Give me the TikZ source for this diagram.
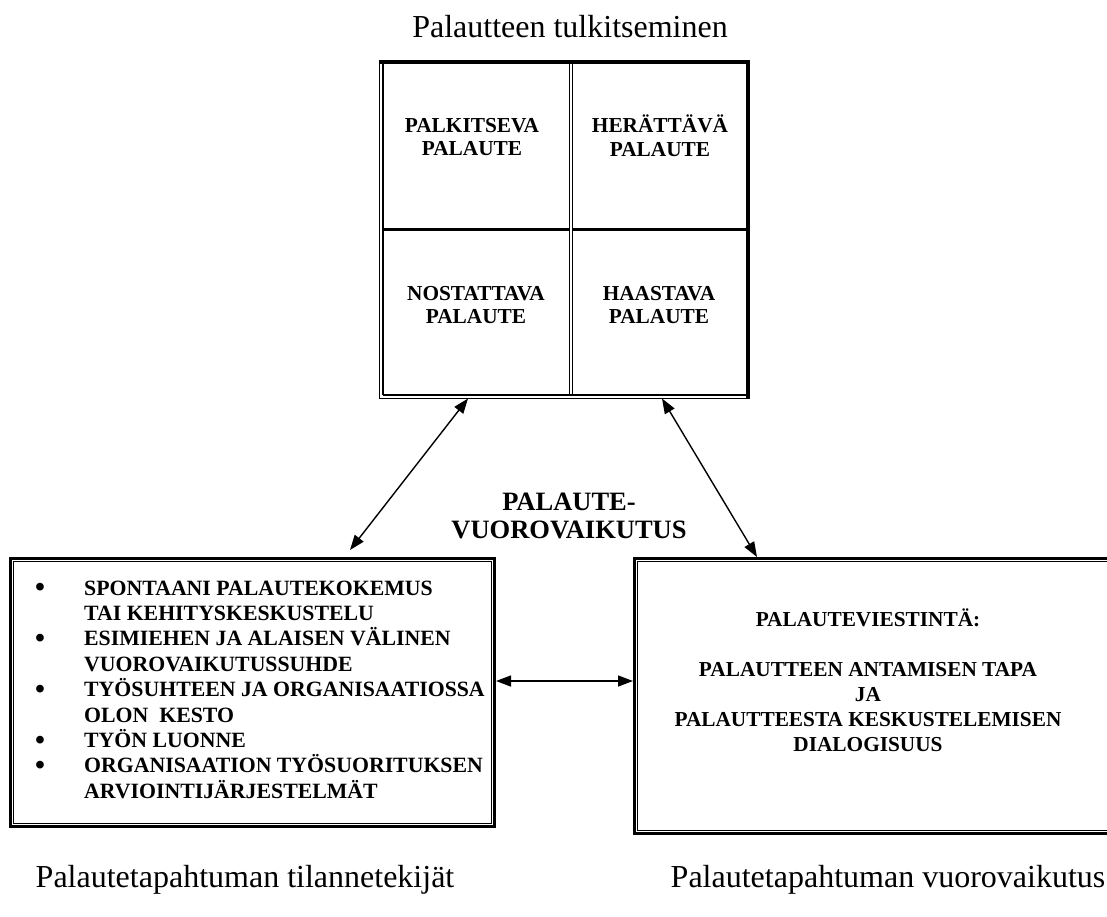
\documentclass[tikz,border=0pt]{standalone}
\usepackage{fontspec}
\usepackage{graphicx}
\setmainfont{Liberation Serif}[BoldFont={Liberation Serif Bold}]
\usetikzlibrary{arrows.meta}

\newcommand{\pallo}{\makebox[49pt][l]{\smash{\raisebox{-1.5pt}{\scalebox{1.3}{\textbullet}}}}}

\begin{document}
\begin{tikzpicture}[x=1pt, y=-1pt]

\clip (0,0) rectangle (1107,916);

\tikzstyle{kentta} = [font=\bfseries\fontsize{21.3}{23.5}\selectfont, align=center]
\tikzstyle{otsikko} = [font=\fontsize{32}{36}\selectfont]
\tikzstyle{nuoli} = [{Triangle[length=15pt,width=11pt]}-{Triangle[length=15pt,width=11pt]}, line width=1.4pt]
\tikzstyle{laatikko} = [draw, line width=3pt, inner sep=0pt]

%Title
\node[otsikko] (tulkinta) at (570,27) {Palautteen tulkitseminen};

%Grid of four
\node[minimum width=368.5pt, minimum height=336.5pt, inner sep=0pt, outer sep=0pt] (ruudukko) at (563.75,230.25) {};
\draw[line width=4pt] (ruudukko.south east) -- (ruudukko.north east) -- ([xshift=-0.75pt]ruudukko.north west);
\draw[line width=1.5pt] (ruudukko.north west) -- (ruudukko.south west) -- (ruudukko.south east);
\draw[line width=1.5pt] ([xshift=3.5pt]ruudukko.north west) -- ([xshift=3.5pt, yshift=3.5pt]ruudukko.south west);
\draw[line width=2pt] ([xshift=3.5pt, yshift=3.5pt]ruudukko.south west) -- ([yshift=3.5pt]ruudukko.south east);
\draw[line width=1.5pt] ([xshift=5.75pt]ruudukko.north) -- ([xshift=5.75pt, yshift=3.5pt]ruudukko.south);
\draw[line width=1.5pt] ([xshift=8.75pt]ruudukko.north) -- ([xshift=8.75pt, yshift=3.5pt]ruudukko.south);
\draw[line width=3pt] ([xshift=3.5pt, yshift=1.25pt]ruudukko.west) -- ([xshift=5.75pt, yshift=1.25pt]ruudukko.center);
\draw[line width=3pt] ([xshift=8.75pt, yshift=1.25pt]ruudukko.center) -- ([yshift=1.25pt]ruudukko.east);

\node[kentta] (palkitseva) at (472,137) {PALKITSEVA\\PALAUTE};
\node[kentta] (herattava) at (660,135.5) {HERÄTTÄVÄ\\PALAUTE};
\node[kentta] (nostattava) at (476,305) {NOSTATTAVA\\PALAUTE};
\node[kentta] (haastava) at (659,305) {HAASTAVA\\PALAUTE};

%Middle label
\node[font=\bfseries\fontsize{26.5}{28}\selectfont, align=center] (vuoro) at (569,516) {PALAUTE-\\VUOROVAIKUTUS};

%% Left box
\node[laatikko, minimum width=484pt, minimum height=268pt] (tilanne) at (252.5,692.5) {};
\draw[line width=1.5pt] ([shift={(4.5pt,-4.5pt)}]tilanne.north west) rectangle ([shift={(-4.5pt,4.5pt)}]tilanne.south east);
\node[font=\bfseries\fontsize{21.8}{25.4}\selectfont, align=left, anchor=north west, inner sep=0pt] (tekijat) at (35,580.5)
{\pallo SPONTAANI PALAUTEKOKEMUS\\
\hspace*{49pt}TAI KEHITYSKESKUSTELU\\
\pallo ESIMIEHEN JA ALAISEN VÄLINEN\\
\hspace*{49pt}VUOROVAIKUTUSSUHDE\\
\pallo TYÖSUHTEEN JA ORGANISAATIOSSA\\
\hspace*{49pt}OLON\ \ KESTO\\
\pallo TYÖN LUONNE\\
\pallo ORGANISAATION TYÖSUORITUKSEN\\
\hspace*{49pt}ARVIOINTIJÄRJESTELMÄT};

%% Right box
\node[laatikko, minimum width=485.5pt, minimum height=275pt] (viestinta) at (877.25,696) {};
\draw[line width=1.5pt] ([shift={(4.5pt,-4.5pt)}]viestinta.north west) rectangle ([shift={(-4.5pt,4.5pt)}]viestinta.south east);
\node[font=\bfseries\fontsize{21.3}{25}\selectfont, align=center] (tapa) at (868,680)
{PALAUTEVIESTINTÄ:\\[25pt]
PALAUTTEEN ANTAMISEN TAPA\\
JA\\
PALAUTTEESTA KESKUSTELEMISEN\\
DIALOGISUUS};

% Arrows
\draw[nuoli] ([xshift=-95.75pt]ruudukko.south) -- ([xshift=97.5pt, yshift=7pt]tilanne.north);
\draw[nuoli] ([xshift=98.25pt]ruudukko.south) -- ([xshift=-120.25pt]viestinta.north);
\draw[nuoli] ([yshift=11.5pt]tilanne.east) -- ([yshift=15pt]viestinta.west);

%Bottom labels
\node[otsikko] (tilannetekijat) at (245,880) {Palautetapahtuman tilannetekijät};
\node[otsikko] (vuorovaikutus) at (888,880) {Palautetapahtuman vuorovaikutus};

\end{tikzpicture}
\end{document}
